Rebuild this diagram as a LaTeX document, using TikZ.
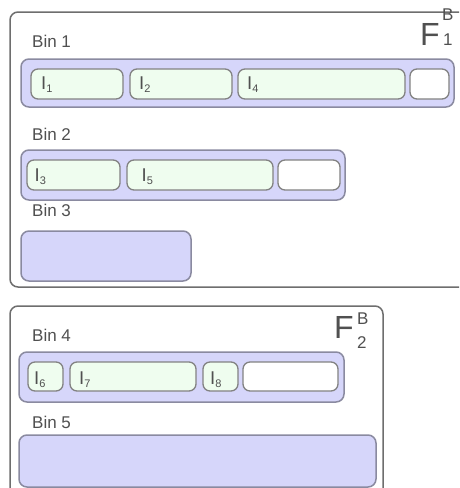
\documentclass[tikz,border=0pt]{standalone}
\usepackage{fontspec}
\setmainfont{Liberation Sans}
\usetikzlibrary{calc}
\definecolor{framec}{HTML}{6E6E6E}
\definecolor{contfill}{HTML}{D6D6FA}
\definecolor{contdraw}{HTML}{8A8AA0}
\definecolor{itemfill}{HTML}{EFFDEF}
\definecolor{itemdraw}{HTML}{828282}
\definecolor{txtc}{HTML}{505050}
\newcommand{\itlab}[1]{{\fontsize{18.5}{18.5}\selectfont I}\raisebox{-3.5pt}{\fontsize{11}{11}\selectfont #1}}
\begin{document}
\begin{tikzpicture}[x=1pt,y=-1pt,
  boxbase/.style={anchor=north west, inner sep=0pt, outer sep=0pt},
  framebox/.style={boxbase, draw=framec, fill=white, line width=1.5pt, rounded corners=8pt},
  contbox/.style={boxbase, draw=contdraw, fill=contfill, line width=1.5pt, rounded corners=8pt},
  itembox/.style={boxbase, draw=itemdraw, fill=itemfill, line width=1.3pt, rounded corners=7pt, minimum height=30pt},
  emptybox/.style={itembox, fill=white},
  binlab/.style={anchor=base west, inner sep=0pt, text=txtc, font=\fontsize{17}{17}\selectfont},
  itlabel/.style={anchor=base west, inner sep=0pt, text=txtc},
  flab/.style={anchor=base west, inner sep=0pt, text=txtc, font=\fontsize{32}{32}\selectfont},
  fsml/.style={anchor=base west, inner sep=0pt, text=txtc, font=\fontsize{17}{17}\selectfont}
]
\useasboundingbox (0,0) rectangle (459,488);
\clip (0,0) rectangle (459,488);
\fill[white] (0,0) rectangle (459,488);

% Frame 1
\node[framebox, minimum width=470pt, minimum height=275pt] (fr1) at (10,12) {};
\node[flab] (F1) at (420,45) {F};
\node[fsml] (F1b) at (442,20.5) {B};
\node[fsml] (F1s) at (443,45) {1};

\node[binlab] (b1lab) at (32,47) {Bin 1};
\node[contbox, minimum width=433pt, minimum height=48pt] (b1) at (21,59) {};
\node[itembox, minimum width=92pt] (i1) at (31,69) {};
\node[itembox, minimum width=102pt] (i2) at (130,69) {};
\node[itembox, minimum width=167pt] (i4) at (238,69) {};
\node[emptybox, minimum width=39pt] (e1) at (410,69) {};
\node[itlabel] (l1) at ($(i1.north west)+(10,20)$) {\itlab{1}};
\node[itlabel] (l2) at ($(i2.north west)+(9,20)$) {\itlab{2}};
\node[itlabel] (l4) at ($(i4.north west)+(9,20)$) {\itlab{4}};

\node[binlab] (b2lab) at (32,140) {Bin 2};
\node[contbox, minimum width=324pt, minimum height=50pt] (b2) at (21,150) {};
\node[itembox, minimum width=93pt] (i3) at (27,160) {};
\node[itembox, minimum width=146pt] (i5) at (127,160) {};
\node[emptybox, minimum width=62pt] (e2) at (278,160) {};
\node[itlabel] (l3) at ($(i3.north west)+(7.5,21)$) {\itlab{3}};
\node[itlabel] (l5) at ($(i5.north west)+(14.5,21)$) {\itlab{5}};

\node[binlab] (b3lab) at (32,216) {Bin 3};
\node[contbox, minimum width=170pt, minimum height=50pt] (b3) at (21,231) {};

% Frame 2
\node[framebox, minimum width=373pt, minimum height=200pt] (fr2) at (10,306) {};
\node[flab] (F2) at (334,338.5) {F};
\node[fsml] (F2b) at (357,324.5) {B};
\node[fsml] (F2s) at (357,348) {2};

\node[binlab] (b4lab) at (32,341) {Bin 4};
\node[contbox, minimum width=325pt, minimum height=50pt] (b4) at (19,352) {};
\node[itembox, minimum width=35pt, minimum height=29pt] (i6) at (28,362) {};
\node[itembox, minimum width=126pt, minimum height=29pt] (i7) at (70,362) {};
\node[itembox, minimum width=35pt, minimum height=29pt] (i8) at (203,362) {};
\node[emptybox, minimum width=95pt, minimum height=29pt] (e4) at (243,362) {};
\node[itlabel] (l6) at ($(i6.north west)+(6,22)$) {\itlab{6}};
\node[itlabel] (l7) at ($(i7.north west)+(9,22)$) {\itlab{7}};
\node[itlabel] (l8) at ($(i8.north west)+(7,22)$) {\itlab{8}};

\node[binlab] (b5lab) at (32,428) {Bin 5};
\node[contbox, minimum width=357pt, minimum height=52pt] (b5) at (19,435) {};
\end{tikzpicture}
\end{document}
